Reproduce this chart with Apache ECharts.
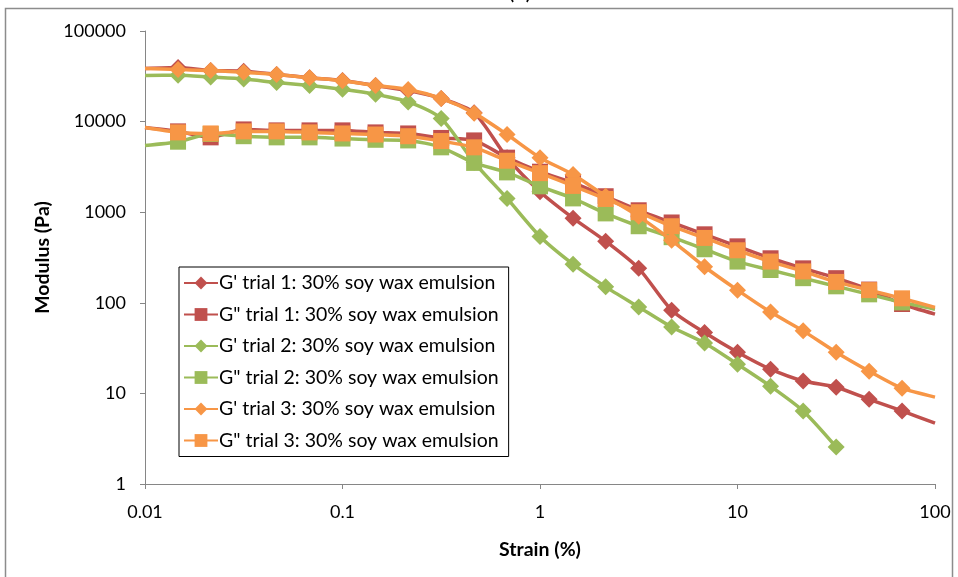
<!DOCTYPE html>
<html>
<head>
<meta charset="utf-8">
<script src="https://cdn.jsdelivr.net/npm/echarts@6/dist/echarts.min.js"></script>
<style>html,body{margin:0;padding:0;background:#fff}#c{width:958px;height:577px}</style>
</head>
<body>
<div id="c"></div>
<script>
// strain (%) values
var strain = [0.01, 0.0147, 0.0215, 0.0316, 0.0464, 0.0681, 0.1, 0.147, 0.215, 0.316, 0.464, 0.681,
  1, 1.47, 2.15, 3.16, 4.64, 6.81, 10, 14.7, 21.5, 31.6, 46.4, 68.1, 100];
var gp1 = [38600, 39600, 36700, 36000, 33200, 30500, 28500, 25000, 22000, 18000, 12500, 4000,
  1680, 860, 478, 240, 83, 47, 28.5, 18.5, 13.7, 11.7, 8.6, 6.4, 4.7];
var gpp1 = [8600, 7800, 6700, 8200, 8000, 8000, 8000, 7600, 7400, 6600, 6200, 4000,
  2800, 2100, 1500, 1050, 770, 570, 420, 310, 240, 187, 140, 97, 75];
var gp2 = [32300, 32500, 31000, 29500, 27000, 25000, 22700, 20000, 16500, 10800, 3550, 1420,
  540, 267, 150, 90, 54, 36, 21, 12, 6.4, 2.56];
var gpp2 = [5460, 6000, 7300, 6900, 6700, 6700, 6500, 6300, 6200, 5200, 3500, 2750,
  1930, 1420, 970, 700, 530, 390, 285, 230, 187, 152, 124, 101, 85];
var gp3 = [38600, 37500, 36700, 35000, 33200, 30500, 28300, 25000, 22600, 18000, 12400, 7200,
  4000, 2600, 1500, 900, 490, 250, 138, 79, 49, 28.5, 17.6, 11.4, 9.1];
var gpp3 = [8600, 7600, 7400, 7800, 7800, 7600, 7400, 7200, 6900, 6100, 5200, 3700,
  2700, 1950, 1400, 1000, 700, 520, 380, 285, 222, 170, 138, 112, 89];
var names = ["G' trial 1: 30% soy wax emulsion", "G\" trial 1: 30% soy wax emulsion",
  "G' trial 2: 30% soy wax emulsion", "G\" trial 2: 30% soy wax emulsion",
  "G' trial 3: 30% soy wax emulsion", "G\" trial 3: 30% soy wax emulsion"];
var xTicks = [0.01, 0.1, 1, 10, 100];
var yTicks = [1, 10, 100, 1000, 10000, 100000];

var colors = ['#C0504D', '#C0504D', '#9BBB59', '#9BBB59', '#F79646', '#F79646'];
var symbols = ['diamond', 'rect', 'diamond', 'rect', 'diamond', 'rect'];
var sets = [gp1, gpp1, gp2, gpp2, gp3, gpp3];
var FONT = 'Lato';

function mk(vals) {
  return vals.map(function (v, i) {
    var x = strain[i];
    var item = { value: [x, v] };
    if (x === 0.01 || x === 100) item.symbol = 'none';
    return item;
  });
}

var series = sets.map(function (s, k) {
  return {
    name: names[k], type: 'line', data: mk(s), smooth: 0.25,
    symbol: symbols[k], symbolSize: symbols[k] === 'rect' ? 16 : 17,
    lineStyle: { color: colors[k], width: 3.5 },
    itemStyle: { color: colors[k] },
    z: 2 + k
  };
});

var chart = echarts.init(document.getElementById('c'));
chart.setOption({
  animation: false,
  title: { text: '(a)', left: 503, top: -26, textStyle: { fontFamily: FONT, fontSize: 24, fontWeight: 'normal', color: '#000' } },
  graphic: [{ type: 'rect', shape: { x: 5.5, y: 8.5, width: 947, height: 600 }, style: { fill: 'none', stroke: '#8c8c8c', lineWidth: 1.5 }, silent: true }],
  grid: { left: 145, right: 23, top: 31, bottom: 93 },
  legend: {
    orient: 'vertical', left: 179, top: 267, padding: [6, 10, 6, 4],
    borderColor: '#000', borderWidth: 1, itemGap: 11.5, itemWidth: 34, itemHeight: 16,
    textStyle: { fontFamily: FONT, fontSize: 19.5, color: '#000', padding: [0, 0, 0, -4] },
    data: names
  },
  xAxis: {
    type: 'log', logBase: 10, min: 0.01, max: 100,
    name: 'Strain (%)', nameLocation: 'middle', nameGap: 56,
    nameTextStyle: { fontFamily: FONT, fontSize: 19.5, fontWeight: 'bold', color: '#000' },
    axisLine: { lineStyle: { color: '#868686', width: 1 } },
    axisTick: { show: true, inside: false, length: 5, lineStyle: { color: '#868686' } },
    splitLine: { show: false },
    axisLabel: { fontFamily: FONT, fontSize: 18, color: '#000', margin: 19,
      formatter: function (v) { var r = Number(Number(v).toPrecision(3)); return xTicks.indexOf(r) >= 0 ? String(r) : ''; } }
  },
  yAxis: {
    type: 'log', logBase: 10, min: 1, max: 100000,
    name: 'Modulus (Pa)', nameLocation: 'middle', nameGap: 92,
    nameTextStyle: { fontFamily: FONT, fontSize: 19.5, fontWeight: 'bold', color: '#000' },
    axisLine: { show: true, lineStyle: { color: '#868686', width: 1 } },
    axisTick: { show: true, inside: false, length: 5, lineStyle: { color: '#868686' } },
    splitLine: { show: false },
    axisLabel: { fontFamily: FONT, fontSize: 18, color: '#000', margin: 19,
      formatter: function (v) { var r = Math.round(Number(v)); return yTicks.indexOf(r) >= 0 ? String(r) : ''; } }
  },
  series: series
});
</script>
</body>
</html>
